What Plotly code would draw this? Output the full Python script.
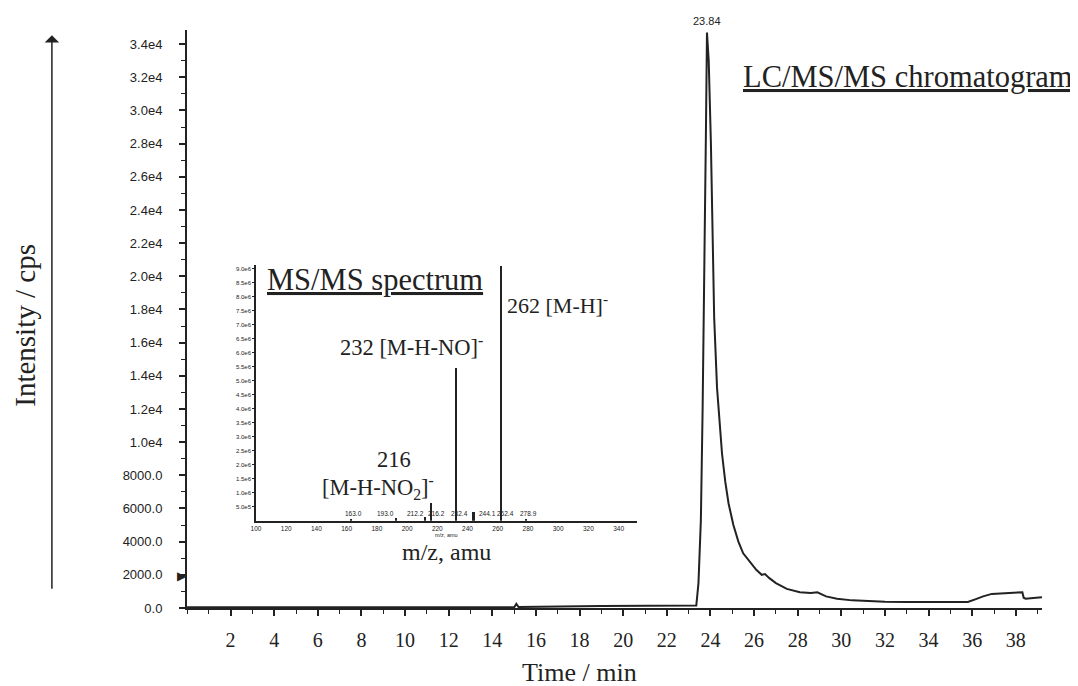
import plotly.graph_objects as go

# ---------------- data ----------------
# LC/MS/MS chromatogram (time in min, intensity in cps)
time_min = [0.0, 15.0, 15.1, 15.2, 19.0, 23.35, 23.45, 23.56, 23.64, 23.72, 23.79, 23.84,
            23.92, 24.02, 24.1, 24.17, 24.3, 24.42, 24.53, 24.68, 24.83, 25.05, 25.28,
            25.5, 25.8, 26.1, 26.35, 26.5, 26.7, 27.0, 27.5, 28.1, 28.6, 28.9, 29.3, 29.8,
            30.5, 31.2, 32.0, 33.0, 34.0, 35.0, 35.8, 36.2, 36.5, 36.9, 37.3, 37.8, 38.3,
            38.36, 38.45, 38.8, 39.2]
intensity_cps = [40, 40, 250, 60, 120, 150, 1500, 5300, 12000, 19300, 28500, 34700,
                 33000, 28000, 23000, 17500, 13300, 11000, 9300, 7600, 6300, 5000, 4000,
                 3300, 2800, 2300, 2000, 2050, 1800, 1500, 1150, 950, 900, 950, 700, 560,
                 460, 410, 380, 360, 350, 350, 360, 550, 700, 850, 880, 920, 950,
                 620, 560, 600, 650]
peak_time_label = "23.84"
peak_time = 23.84

# MS/MS spectrum (m/z, intensity)
ms_mz = [163.0, 193.0, 212.2, 216.2, 232.4, 244.1, 262.4, 278.9]
ms_intensity = [0.05e6, 0.10e6, 0.12e6, 0.63e6, 5.46e6, 0.30e6, 9.10e6, 0.03e6]
ms_labels = ["163.0", "193.0", "212.2", "216.2", "232.4", "244.1", "262.4", "278.9"]

# axis ticks
y_tickvals = list(range(0, 34001, 2000))
y_ticktext = ["0.0", "2000.0", "4000.0", "6000.0", "8000.0", "1.0e4", "1.2e4", "1.4e4",
              "1.6e4", "1.8e4", "2.0e4", "2.2e4", "2.4e4", "2.6e4", "2.8e4", "3.0e4",
              "3.2e4", "3.4e4"]
x_tickvals = list(range(2, 39, 2))
x_ticktext = [str(v) for v in x_tickvals]
ms_y_tickvals = [i * 0.5e6 for i in range(1, 19)]
ms_y_ticktext = ["5.0e5", "1.0e6", "1.5e6", "2.0e6", "2.5e6", "3.0e6", "3.5e6", "4.0e6",
                 "4.5e6", "5.0e6", "5.5e6", "6.0e6", "6.5e6", "7.0e6", "7.5e6", "8.0e6",
                 "8.5e6", "9.0e6"]
ms_x_tickvals = list(range(100, 341, 20))

# label pixel offsets (styling only)
ms_label_xshift = [2, -11, -10, 5, 3, 14, 4, 2]

# ---------------- figure ----------------
INK = "#222222"
SERIF = "Liberation Serif, Times New Roman, serif"
SANS = "Liberation Sans, Arial, sans-serif"

fig = go.Figure()

fig.add_trace(go.Scatter(x=time_min, y=intensity_cps, mode="lines",
                         line=dict(color=INK, width=2), showlegend=False,
                         xaxis="x", yaxis="y"))

fig.add_trace(go.Bar(x=ms_mz, y=ms_intensity, width=1.2, marker=dict(color=INK, line=dict(width=0)),
                     showlegend=False, xaxis="x2", yaxis="y2"))

fig.update_layout(
    width=1078, height=686,
    margin=dict(l=179, r=44, t=22, b=86),
    paper_bgcolor="white", plot_bgcolor="white",
    showlegend=False,
    xaxis=dict(range=[0, 39.2], domain=[0, 1], showgrid=False, zeroline=False,
               showline=True, linecolor=INK, linewidth=2,
               ticks="outside", ticklen=6, tickwidth=1.5, tickcolor=INK,
               tickvals=x_tickvals, ticktext=x_ticktext, ticklabelstandoff=7,
               tickfont=dict(family=SERIF, size=20, color=INK),
               minor=dict(dtick=1, tick0=0, ticks="outside", ticklen=4, tickcolor=INK, tickwidth=1.2),
               anchor="y"),
    yaxis=dict(range=[0, 34850], domain=[0, 1], showgrid=False, zeroline=False,
               showline=True, linecolor=INK, linewidth=2,
               ticks="outside", ticklen=6, tickwidth=1.5, tickcolor=INK,
               tickvals=y_tickvals, ticktext=y_ticktext, ticklabelstandoff=14,
               tickfont=dict(family=SANS, size=13, color=INK),
               minor=dict(dtick=1000, tick0=0, ticks="outside", ticklen=4, tickcolor=INK, tickwidth=1.2),
               anchor="x"),
    xaxis2=dict(range=[100, 352], domain=[0.0807, 0.526], anchor="y2",
                showgrid=False, zeroline=False, showline=True, linecolor=INK, linewidth=1.5,
                ticks="outside", ticklen=1, tickcolor=INK, tickvals=ms_x_tickvals,
                tickfont=dict(family=SANS, size=6.5, color=INK), ticklabelstandoff=0),
    yaxis2=dict(range=[0, 9.14e6], domain=[0.151, 0.5934], anchor="x2",
                showgrid=False, zeroline=False, showline=True, linecolor=INK, linewidth=1.5,
                ticks="outside", ticklen=2, tickcolor=INK, tickvals=ms_y_tickvals,
                ticktext=ms_y_ticktext, tickfont=dict(family=SANS, size=6, color=INK),
                ticklabelstandoff=0),
    bargap=0,
)

ann = []
# peak label on chromatogram
ann.append(dict(x=peak_time, y=max(intensity_cps), xref="x", yref="y", text=peak_time_label,
                showarrow=False, xanchor="center", yanchor="bottom", yshift=3,
                font=dict(family=SANS, size=11, color=INK)))
# chart titles
ann.append(dict(x=1.0386, y=0.9187, xref="paper", yref="paper", xanchor="right", yanchor="middle",
                text="<u>LC/MS/MS chromatogram</u>", showarrow=False,
                font=dict(family=SERIF, size=30.5, color=INK)))
ann.append(dict(x=0.0912, y=0.5675, xref="paper", yref="paper", xanchor="left", yanchor="middle",
                text="<u>MS/MS spectrum</u>", showarrow=False,
                font=dict(family=SERIF, size=30.5, color=INK)))
# axis titles
ann.append(dict(x=0.4596, y=-0.112, xref="paper", yref="paper", text="Time / min",
                xanchor="center", yanchor="middle",
                showarrow=False, font=dict(family=SERIF, size=26, color=INK)))
ann.append(dict(x=-0.1895, y=0.49, xref="paper", yref="paper", text="Intensity / cps",
                xanchor="center", yanchor="middle",
                textangle=-90, showarrow=False, font=dict(family=SERIF, size=29, color=INK)))
ann.append(dict(x=226, y=0.097, xref="x2", yref="paper", text="m/z, amu",
                xanchor="center", yanchor="middle",
                showarrow=False, font=dict(family=SERIF, size=24, color=INK)))
ann.append(dict(x=226, y=0.127, xref="x2", yref="paper", text="m/z, amu",
                xanchor="center", yanchor="middle",
                showarrow=False, font=dict(family=SANS, size=5.5, color=INK)))
# vertical arrow on the left
ann.append(dict(x=-0.158, y=0.991, xref="paper", yref="paper", text="", showarrow=True,
                ax=0, ay=555, axref="pixel", ayref="pixel", arrowhead=1, arrowsize=1.6,
                arrowwidth=1.5, arrowcolor=INK))
# small marker on y-axis
ann.append(dict(x=0, y=1900, xref="paper", yref="y", text="\u25B6", xanchor="right",
                yanchor="middle", showarrow=False, xshift=2,
                font=dict(family="DejaVu Sans", size=12, color=INK)))
# fragment annotations in the spectrum
ann.append(dict(x=262, y=7.75e6, xref="x2", yref="y2", xanchor="left", yanchor="middle", xshift=4,
                text="262 [M-H]<sup>-</sup>", showarrow=False,
                font=dict(family=SERIF, size=22, color=INK)))
ann.append(dict(x=203, y=6.25e6, xref="x2", yref="y2", xanchor="center", yanchor="middle",
                text="232 [M-H-NO]<sup>-</sup>", showarrow=False,
                font=dict(family=SERIF, size=22.5, color=INK)))
ann.append(dict(x=191.4, y=2.2e6, xref="x2", yref="y2", xanchor="center", yanchor="middle",
                text="216", showarrow=False, font=dict(family=SERIF, size=22.5, color=INK)))
ann.append(dict(x=181, y=1.2e6, xref="x2", yref="y2", xanchor="center", yanchor="middle",
                text="[M-H-NO<sub>2</sub>]<sup>-</sup>", showarrow=False,
                font=dict(family=SERIF, size=22.5, color=INK)))
# small m/z labels
for mz, lab, dx in zip(ms_mz, ms_labels, ms_label_xshift):
    ann.append(dict(x=mz, y=0.06e6, xref="x2", yref="y2", xanchor="center", yanchor="bottom",
                    xshift=dx, text=lab, showarrow=False,
                    font=dict(family=SANS, size=6.5, color=INK)))

fig.update_layout(annotations=ann)

fig.write_html("out.html")
